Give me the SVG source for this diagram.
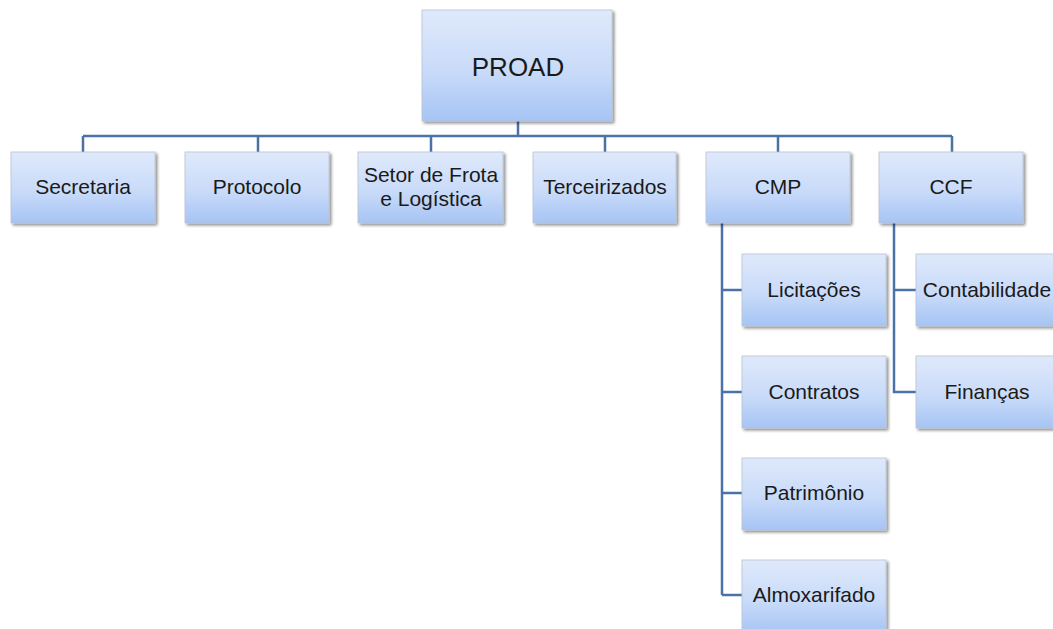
<svg xmlns="http://www.w3.org/2000/svg" width="1053" height="629" viewBox="0 0 1053 629">
<defs>
<linearGradient id="g" x1="0" y1="0" x2="0" y2="1">
<stop offset="0" stop-color="#dfe9fb"/>
<stop offset="0.55" stop-color="#c9dbf9"/>
<stop offset="1" stop-color="#a6c4f4"/>
</linearGradient>
<filter id="sh" x="-10%" y="-10%" width="125%" height="130%">
<feGaussianBlur in="SourceAlpha" stdDeviation="1.5"/>
<feOffset dx="2" dy="2" result="b"/>
<feComponentTransfer><feFuncA type="linear" slope="0.45"/></feComponentTransfer>
<feMerge><feMergeNode/><feMergeNode in="SourceGraphic"/></feMerge>
</filter>
</defs>
<style>
.box{fill:url(#g);stroke:#b9c3d2;stroke-width:0.8;filter:url(#sh)}
.lbl{font-family:"Liberation Sans",Arial,sans-serif;font-size:21px;fill:#1a1a1a;text-anchor:middle}
.big{font-size:26px}
.ln{fill:none;stroke:#4a72a6;stroke-width:2.5}
</style>
<rect width="1053" height="629" fill="#ffffff"/>
<g id="connectors">
<path class="ln" d="M518 121V136M83 136H952M83 136V152M258 136V152M431 136V152M605 136V152M778 136V152M952 136V152"/>
<path class="ln" d="M722 223V595M722 290H742M722 392H742M722 493H742M722 595H742"/>
<path class="ln" d="M894 223V392H916M894 290H916"/>
</g>
<g id="proad"><rect class="box" x="422" y="10" width="190" height="111"/><text class="lbl big" x="518" y="76">PROAD</text></g>
<g id="secretaria"><rect class="box" x="11" y="152" width="144" height="71"/><text class="lbl" x="83" y="194">Secretaria</text></g>
<g id="protocolo"><rect class="box" x="185" y="152" width="144" height="71"/><text class="lbl" x="257" y="194">Protocolo</text></g>
<g id="frota"><rect class="box" x="358" y="152" width="145" height="71"/><text class="lbl" x="431" y="182">Setor de Frota</text><text class="lbl" x="431" y="206">e Logística</text></g>
<g id="terceirizados"><rect class="box" x="533" y="152" width="143" height="71"/><text class="lbl" x="605" y="194">Terceirizados</text></g>
<g id="cmp"><rect class="box" x="706" y="152" width="144" height="71"/><text class="lbl" x="778" y="194">CMP</text></g>
<g id="ccf"><rect class="box" x="879" y="152" width="144" height="71"/><text class="lbl" x="951" y="194">CCF</text></g>
<g id="licitacoes"><rect class="box" x="742" y="254" width="144" height="72"/><text class="lbl" x="814" y="297">Licitações</text></g>
<g id="contratos"><rect class="box" x="742" y="356" width="144" height="72"/><text class="lbl" x="814" y="399">Contratos</text></g>
<g id="patrimonio"><rect class="box" x="742" y="458" width="144" height="72"/><text class="lbl" x="814" y="500">Patrimônio</text></g>
<g id="almoxarifado"><rect class="box" x="742" y="560" width="144" height="74"/><text class="lbl" x="814" y="602">Almoxarifado</text></g>
<g id="contabilidade"><rect class="box" x="916" y="254" width="150" height="72"/><text class="lbl" x="987" y="297">Contabilidade</text></g>
<g id="financas"><rect class="box" x="916" y="356" width="150" height="72"/><text class="lbl" x="987" y="399">Finanças</text></g>
</svg>
